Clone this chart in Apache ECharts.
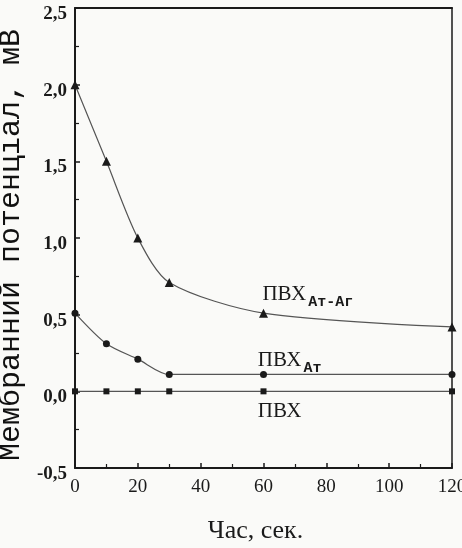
<!DOCTYPE html>
<html>
<head>
<meta charset="utf-8">
<script src="https://cdn.jsdelivr.net/npm/echarts@6/dist/echarts.min.js"></script>
<style>
  html, body { margin: 0; padding: 0; background: #fafaf8; }
  #chart { width: 462px; height: 548px; }
</style>
</head>
<body>
<div id="chart"></div>
<script>
// Time, seconds
const times = [0, 10, 20, 30, 60, 120];
// Membrane potential, mV
const pvcAtAg = [2.0, 1.5, 1.0, 0.71, 0.51, 0.42];
const pvcAt   = [0.51, 0.31, 0.21, 0.11, 0.11, 0.11];
const pvc     = [0.0, 0.0, 0.0, 0.0, 0.0, 0.0];
// Curve captions
const captionMain = 'ПВХ';
const subAtAg = 'Ат-Аг';
const subAt = 'Ат';
// Axis titles
const yTitle = 'Мембранний потенціал, мВ';
const xTitle = 'Час, сек.';

const ink = '#1a1a1a';
const pairs = arr => times.map((t, i) => [t, arr[i]]);

const rich = {
  m: { fontFamily: 'Liberation Serif', fontSize: 21, color: ink },
  s: { fontFamily: 'Liberation Mono', fontSize: 15, fontWeight: 'bold', color: ink, padding: [15, 0, 0, 2] }
};

function caption(x, y, sub) {
  return {
    symbol: 'circle',
    symbolSize: 1,
    itemStyle: { color: 'rgba(0,0,0,0)' },
    data: [{
      coord: [x, y],
      label: {
        show: true,
        position: 'right',
        distance: 0,
        formatter: sub ? '{m|' + captionMain + '}{s|' + sub + '}' : '{m|' + captionMain + '}',
        rich: rich
      }
    }]
  };
}

function series(name, data, symbol, size, markPoint) {
  return {
    name: name,
    type: 'line',
    data: pairs(data),
    smooth: 0.28,
    symbol: symbol,
    symbolSize: size,
    showSymbol: true,
    lineStyle: { color: '#555', width: 1.2 },
    itemStyle: { color: ink },
    markPoint: markPoint,
    z: 3
  };
}

const chart = echarts.init(document.getElementById('chart'), null, { renderer: 'canvas' });
chart.setOption({
  backgroundColor: '#fafaf8',
  animation: false,
  grid: { left: 75, right: 10, top: 8, bottom: 80, outerBoundsMode: 'none', containLabel: false },
  xAxis: [{
    type: 'value', min: 0, max: 120, interval: 20,
    name: xTitle, nameLocation: 'middle', nameGap: 50,
    nameTextStyle: { fontFamily: 'Liberation Serif', fontSize: 26, color: ink, padding: [0, 16, 0, 0] },
    axisLine: { show: true, onZero: false, lineStyle: { color: ink, width: 2 } },
    axisTick: { show: true, inside: true, length: 5, lineStyle: { color: ink, width: 1.5 } },
    minorTick: { show: true, splitNumber: 2, length: 4, lineStyle: { color: ink, width: 1.2 } },
    axisLabel: { fontFamily: 'Liberation Serif', fontSize: 19, color: ink, margin: 10 },
    splitLine: { show: false }
  }, {
    type: 'value', position: 'top', min: 0, max: 120,
    axisLine: { show: true, onZero: false, lineStyle: { color: ink, width: 2 } },
    axisTick: { show: false }, axisLabel: { show: false }, splitLine: { show: false }
  }],
  yAxis: [{
    type: 'value', min: -0.5, max: 2.5, interval: 0.5,
    name: yTitle, nameLocation: 'middle', nameGap: 41, nameRotate: 90,
    nameTextStyle: { fontFamily: 'Liberation Mono', fontSize: 30, color: '#111', padding: [0, 14, 0, 0] },
    axisLine: { show: true, onZero: false, lineStyle: { color: ink, width: 2 } },
    axisTick: { show: true, inside: true, length: 5, lineStyle: { color: ink, width: 1.5 } },
    minorTick: { show: true, splitNumber: 2, length: 4, lineStyle: { color: ink, width: 1.2 } },
    axisLabel: {
      fontFamily: 'Liberation Serif', fontWeight: 'bold', fontSize: 19, color: ink, margin: 8,
      verticalAlign: 'top', lineHeight: 12,
      formatter: v => v.toFixed(1).replace('.', ',')
    },
    splitLine: { show: false }
  }, {
    type: 'value', position: 'right', min: -0.5, max: 2.5,
    axisLine: { show: true, onZero: false, lineStyle: { color: ink, width: 1.5 } },
    axisTick: { show: false }, axisLabel: { show: false }, splitLine: { show: false }
  }],
  series: [
    series('ПВХ Ат-Аг', pvcAtAg, 'triangle', 9, caption(59.5, 0.63, subAtAg)),
    series('ПВХ Ат', pvcAt, 'circle', 7, caption(58, 0.2, subAt)),
    series('ПВХ', pvc, 'rect', 6, caption(58, -0.13, null))
  ]
});
</script>
</body>
</html>
